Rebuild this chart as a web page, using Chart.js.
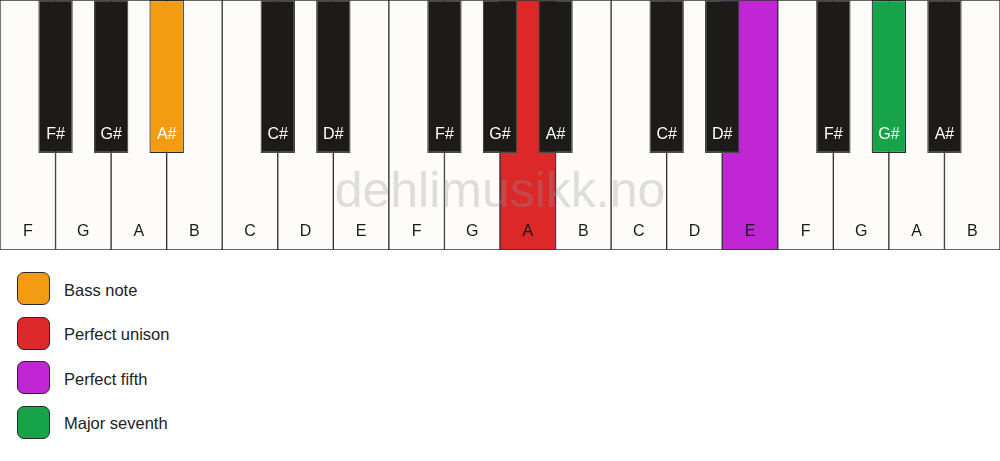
<!DOCTYPE html>
<html><head><meta charset="utf-8">
<script src="https://cdn.jsdelivr.net/npm/chart.js@4.4.1/dist/chart.umd.min.js"></script>
<style>
html,body{margin:0;padding:0;background:#fff;width:1000px;height:461px;overflow:hidden;font-family:"Liberation Sans",Arial,sans-serif;}
#wrap{position:absolute;left:0;top:0;width:1000px;height:250px;}
#legend{position:absolute;left:17px;top:272px;}
.item{display:flex;align-items:center;height:33px;margin-bottom:11.5px;}
.sw{width:33px;height:33px;border:1.5px solid #2a2a2a;border-radius:7px;box-sizing:border-box;}
.lbl{margin-left:14px;font-size:16.5px;color:#222;position:relative;top:1.5px;}
</style>
</head><body>
<div id="wrap"><canvas id="c" width="1000" height="250"></canvas></div>
<div id="legend"></div>
<script>
// ---- data ----
const whiteNotes = ['F','G','A','B','C','D','E','F','G','A','B','C','D','E','F','G','A','B'];
const blackNotes = ['F#','G#','A#','C#','D#','F#','G#','A#','C#','D#','F#','G#','A#'];
const highlightNames  = ['Bass note','Perfect unison','Perfect fifth','Major seventh'];
const highlightColors = ['#f39c12','#dc2828','#c026d3','#17a34a'];
const highlightKind   = ['black','white','white','black'];
const highlightIndex  = [2, 9, 13, 11];
const watermark = 'dehlimusikk.no';

// ---- build ----
const WHITE = '#fdfcfa', BLACK = '#1c1b19';
const blackX = [];
{ let b = 0;
  for (let i = 0; i < whiteNotes.length - 1 && b < blackNotes.length; i++) {
    if (whiteNotes[i] + '#' === blackNotes[b]) { blackX.push(i + 1); b++; }
  }
}
const whiteColors = whiteNotes.map(() => WHITE);
const blackColors = blackNotes.map(() => BLACK);
const blackBorders = blackNotes.map(() => '#4a4a4a');
highlightKind.forEach((k, j) => {
  if (k === 'white') whiteColors[highlightIndex[j]] = highlightColors[j];
  else { blackColors[highlightIndex[j]] = highlightColors[j]; blackBorders[highlightIndex[j]] = '#2a2a2a'; }
});
const BLACK_BOTTOM = 1 - 153 / 250;

const labelPlugin = {
  id: 'keyLabels',
  afterDatasetsDraw(chart) {
    const ctx = chart.ctx;
    ctx.save();
    ctx.font = '16px "Liberation Sans", Arial, sans-serif';
    ctx.textAlign = 'center';
    ctx.textBaseline = 'middle';
    const wm = chart.getDatasetMeta(1), bm = chart.getDatasetMeta(0);
    wm.data.forEach((el, i) => {
      ctx.fillStyle = '#1a1a1a';
      ctx.fillText(whiteNotes[i], el.x, el.base - 18);
    });
    bm.data.forEach((el, i) => {
      ctx.fillStyle = '#ffffff';
      ctx.fillText(blackNotes[i], el.x, el.base - 18.5);
    });
    // watermark
    const area = chart.chartArea;
    ctx.font = '50px "Liberation Sans", Arial, sans-serif';
    ctx.fillStyle = 'rgba(150,150,150,0.3)';
    ctx.fillText(watermark, (area.left + area.right) / 2, chart.scales.y.getPixelForValue(0.226));
    ctx.restore();
  }
};

new Chart(document.getElementById('c'), {
  type: 'bar',
  data: {
    datasets: [
      {
        label: 'black',
        xAxisID: 'x2',
        order: 1,
        data: blackX.map(x => ({x: x, y: [BLACK_BOTTOM, 1]})),
        backgroundColor: blackColors,
        borderColor: blackBorders,
        borderWidth: 1.2,
        borderSkipped: false,
        barPercentage: 0.62,
        categoryPercentage: 1,
        grouped: false
      },
      {
        label: 'white',
        xAxisID: 'x',
        order: 2,
        data: whiteNotes.map((n, i) => ({x: i + 0.5, y: [0, 1]})),
        backgroundColor: whiteColors,
        borderColor: '#333333',
        borderWidth: 1,
        borderSkipped: false,
        barPercentage: 1,
        categoryPercentage: 1,
        grouped: false
      }
    ]
  },
  options: {
    responsive: false,
    animation: false,
    layout: {padding: 0},
    plugins: {legend: {display: false}, tooltip: {enabled: false}},
    scales: {
      x: {type: 'linear', min: 0, max: whiteNotes.length, offset: false, display: false},
      x2: {type: 'linear', min: 0, max: whiteNotes.length, offset: false, display: false},
      y: {min: 0, max: 1, display: false}
    }
  },
  plugins: [labelPlugin]
});

// legend
const lg = document.getElementById('legend');
highlightNames.forEach((n, j) => {
  const it = document.createElement('div'); it.className = 'item';
  const sw = document.createElement('div'); sw.className = 'sw'; sw.style.background = highlightColors[j];
  const lb = document.createElement('span'); lb.className = 'lbl'; lb.textContent = n;
  it.appendChild(sw); it.appendChild(lb); lg.appendChild(it);
});
</script>
</body></html>
